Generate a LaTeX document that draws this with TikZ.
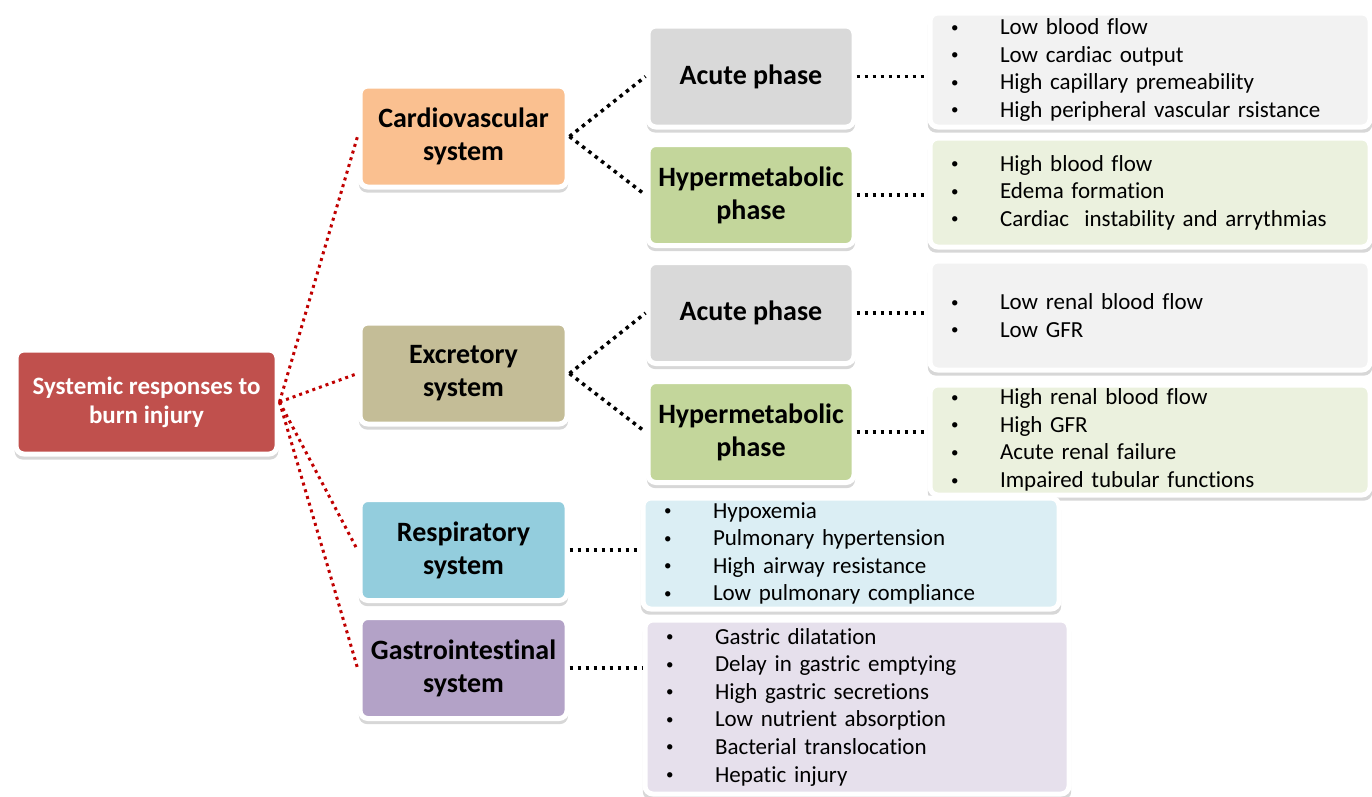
\documentclass[tikz,border=0pt]{standalone}
\usepackage{fontspec}
\setmainfont{Carlito}[Ligatures=NoCommon]
\newfontfamily\listfam{Carlito}[Ligatures=NoCommon,WordSpace=0.75]
\usetikzlibrary{shadows}
\definecolor{rootred}{HTML}{C0504D}
\definecolor{cardioorange}{HTML}{FAC090}
\definecolor{excrettan}{HTML}{C4BD97}
\definecolor{respblue}{HTML}{93CDDD}
\definecolor{gastropurple}{HTML}{B3A2C7}
\definecolor{acutegray}{HTML}{D9D9D9}
\definecolor{hypergreen}{HTML}{C3D69B}
\definecolor{listgray}{HTML}{F2F2F2}
\definecolor{listgreen}{HTML}{EBF1DE}
\definecolor{listblue}{HTML}{DBEEF4}
\definecolor{listpurple}{HTML}{E6E0EC}
\definecolor{dotred}{HTML}{C00000}
\newcommand{\bul}{\makebox[49pt][l]{\raisebox{2.5pt}{\fontsize{15}{15}\selectfont\textbullet}}}

\begin{document}
\begin{tikzpicture}[x=1pt,y=-1pt,
	box/.style={rectangle,rounded corners=8pt,draw=white,line width=5pt,
		general shadow={fill=black!45,opacity=0.35,shadow yshift=-5pt,shadow scale=1.01}},
	sysbox/.style={box,minimum width=207pt,minimum height=101pt,align=center,
		font=\fontsize{28}{33}\selectfont\bfseries},
	phasebox/.style={box,minimum width=206pt,minimum height=101pt,align=center,
		font=\fontsize{28}{33}\selectfont\bfseries},
	listbox/.style={box,align=left,inner xsep=21pt,inner ysep=3pt,
		font=\listfam\fontsize{23}{27.6}\selectfont},
	reddots/.style={draw=dotred,line width=3pt,dash pattern=on 3pt off 4pt},
	blackdots/.style={draw=black,line width=3.5pt,dash pattern=on 3.5pt off 4.5pt}]
	\useasboundingbox (0,0) rectangle (1372,796);
	
	\node[box,fill=rootred,text=white,minimum width=261pt,minimum height=104pt,
	align=center,font=\fontsize{25}{29}\selectfont\bfseries] (root)
	at (146.5,402) {Systemic responses to\\burn injury};
	
	\node[sysbox,fill=cardioorange] (cardio) at (463.5,136.5) {Cardiovascular\\system};
	\node[sysbox,fill=excrettan] (excret) at (463.5,373.5) {Excretory\\system};
	\node[sysbox,fill=respblue] (resp) at (463.5,550) {Respiratory\\system};
	\node[sysbox,fill=gastropurple] (gastro) at (463.5,668) {Gastrointestinal\\system};
	
	\node[phasebox,fill=acutegray] (acute1) at (751,76.5) {Acute phase};
	\node[phasebox,fill=hypergreen] (hyper1) at (751,195) {Hypermetabolic\\phase};
	\node[phasebox,fill=acutegray] (acute2) at (751,313) {Acute phase};
	\node[phasebox,fill=hypergreen] (hyper2) at (751,432) {Hypermetabolic\\phase};
	
	\node[listbox,fill=listgray,text width=398pt,minimum height=114pt] (list1)
	at (1150,70) {\bul Low blood flow\\\bul Low cardiac output\\
		\bul High capillary premeability\\\bul High peripheral vascular rsistance};
	\node[listbox,fill=listgreen,text width=398pt,minimum height=109pt] (list2)
	at (1150,192.5) {\bul High blood flow\\\bul Edema formation\\
		\bul Cardiac\ \ instability and arrythmias};
	\node[listbox,fill=listgray,text width=398pt,minimum height=109pt] (list3)
	at (1150,315.5) {\bul Low renal blood flow\\\bul Low GFR};
	\node[listbox,fill=listgreen,text width=398pt,minimum height=110pt] (list4)
	at (1150,440) {\bul High renal blood flow\\\bul High GFR\\
		\bul Acute renal failure\\\bul Impaired tubular functions};
	\node[listbox,fill=listblue,text width=374pt,minimum height=111pt] (list5)
	at (851,553.5) {\bul Hypoxemia\\\bul Pulmonary hypertension\\
		\bul High airway resistance\\\bul Low pulmonary compliance};
	\node[listbox,fill=listpurple,text width=382pt,minimum height=174pt] (list6)
	at (857,707) {\bul Gastric dilatation\\\bul Delay in gastric emptying\\
		\bul High gastric secretions\\\bul Low nutrient absorption\\
		\bul Bacterial translocation\\\bul Hepatic injury};
	
	\path[reddots] (root.east) edge (cardio.west);
	\path[reddots] (root.east) edge (excret.west);
	\path[reddots] (root.east) edge (resp.west);
	\path[reddots] (root.east) edge (gastro.west);
	
	\path[blackdots] (cardio.east) edge (acute1.west);
	\path[blackdots] (cardio.east) edge (hyper1.west);
	\path[blackdots] (excret.east) edge (acute2.west);
	\path[blackdots] (excret.east) edge (hyper2.west);
	\path[blackdots] (acute1.east) edge (list1.west |- acute1.east);
	\path[blackdots] (hyper1.east) edge (list2.west |- hyper1.east);
	\path[blackdots] (acute2.east) edge (list3.west |- acute2.east);
	\path[blackdots] (hyper2.east) edge (list4.west |- hyper2.east);
	\path[blackdots] (resp.east) edge (list5.west |- resp.east);
	\path[blackdots] (gastro.east) edge (list6.west |- gastro.east);
\end{tikzpicture}
\end{document}
